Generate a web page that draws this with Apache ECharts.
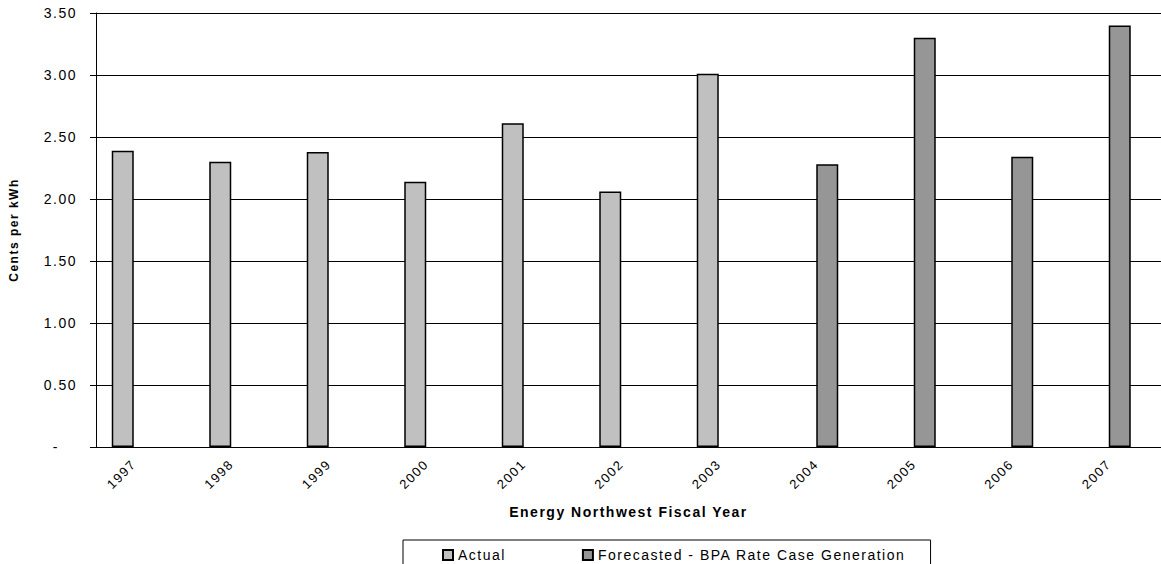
<!DOCTYPE html>
<html>
<head>
<meta charset="utf-8">
<title>Energy Northwest - Cents per kWh</title>
<script src="https://cdn.jsdelivr.net/npm/echarts@6/dist/echarts.min.js"></script>
<style>
  html, body { margin: 0; padding: 0; background: #fff; }
  #chart { width: 1161px; height: 564px; }
  /* the original export has widely spaced glyphs */
  #chart svg text { letter-spacing: 1.5px; }
</style>
</head>
<body>
<div id="chart"></div>
<script>
const categories = ['1997', '1998', '1999', '2000', '2001', '2002', '2003', '2004', '2005', '2006', '2007']
const actual = [2.39, 2.30, 2.38, 2.14, 2.61, 2.06, 3.01, '-', '-', '-', '-']
const forecast = ['-', '-', '-', '-', '-', '-', '-', 2.28, 3.30, 2.34, 3.40]
const yMax = 3.5
const yStep = 0.5

const font = 'Liberation Sans'

const chart = echarts.init(document.getElementById('chart'), null, { renderer: 'svg' })

const option = {
  animation: false,
  backgroundColor: '#fff',
  textStyle: { fontFamily: font, color: '#000' },
  grid: [
    // bars (category bands start a little left of the drawn y axis, as in the original)
    { left: 85, right: 3.5, top: 13, bottom: 117 },
    // axes and gridlines
    { left: 96, right: 0, top: 13, bottom: 117 },
  ],
  xAxis: [
    {
      type: 'category',
      gridIndex: 0,
      data: categories,
      axisLine: { show: false },
      axisTick: { show: false },
      axisLabel: {
        rotate: 45,
        fontSize: 13,
        color: '#000',
        margin: 15,
      },
    },
    {
      type: 'value',
      gridIndex: 1,
      min: 0,
      max: 1,
      axisLine: { show: true, lineStyle: { color: '#000', width: 1 } },
      axisTick: { show: false },
      axisLabel: { show: false },
      splitLine: { show: false },
      name: 'Energy Northwest Fiscal Year',
      nameLocation: 'middle',
      nameGap: 58,
      nameTextStyle: { fontWeight: 'bold', fontSize: 14, color: '#000' },
    },
  ],
  yAxis: [
    { type: 'value', gridIndex: 0, min: 0, max: yMax, show: false },
    {
      type: 'value',
      gridIndex: 1,
      min: 0,
      max: yMax,
      interval: yStep,
      axisLine: { show: true, lineStyle: { color: '#000', width: 1 } },
      axisTick: { show: true, length: 6, lineStyle: { color: '#000' } },
      splitLine: { show: true, lineStyle: { color: '#000', width: 1 } },
      axisLabel: {
        fontSize: 14,
        color: '#000',
        margin: 19,
        formatter: (v) => (v === 0 ? '{d|-}' : v.toFixed(2)),
        rich: { d: { fontSize: 14, color: '#000', padding: [0, 18, 0, 0] } },
      },
      name: 'Cents per kWh',
      nameLocation: 'middle',
      nameGap: 76,
      nameTextStyle: { fontWeight: 'bold', fontSize: 12, color: '#000' },
    },
  ],
  legend: {
    left: 403,
    top: 540,
    orient: 'horizontal',
    icon: 'rect',
    itemWidth: 10,
    itemHeight: 10,
    itemGap: 85,
    padding: [8, 80, 10, 39],
    borderColor: '#000',
    borderWidth: 1,
    textStyle: { fontSize: 14, color: '#000' },
    data: ['Actual', 'Forecasted - BPA Rate Case Generation'],
  },
  series: [
    {
      name: 'Actual',
      type: 'bar',
      xAxisIndex: 0,
      yAxisIndex: 0,
      data: actual,
      barWidth: 22,
      barGap: '0%',
      itemStyle: { color: '#c0c0c0', borderColor: '#000', borderWidth: 1.5 },
    },
    {
      name: 'Forecasted - BPA Rate Case Generation',
      type: 'bar',
      xAxisIndex: 0,
      yAxisIndex: 0,
      data: forecast,
      barWidth: 22,
      barGap: '0%',
      itemStyle: { color: '#969696', borderColor: '#000', borderWidth: 1.5 },
    },
  ],
}

chart.setOption(option)
</script>
</body>
</html>
